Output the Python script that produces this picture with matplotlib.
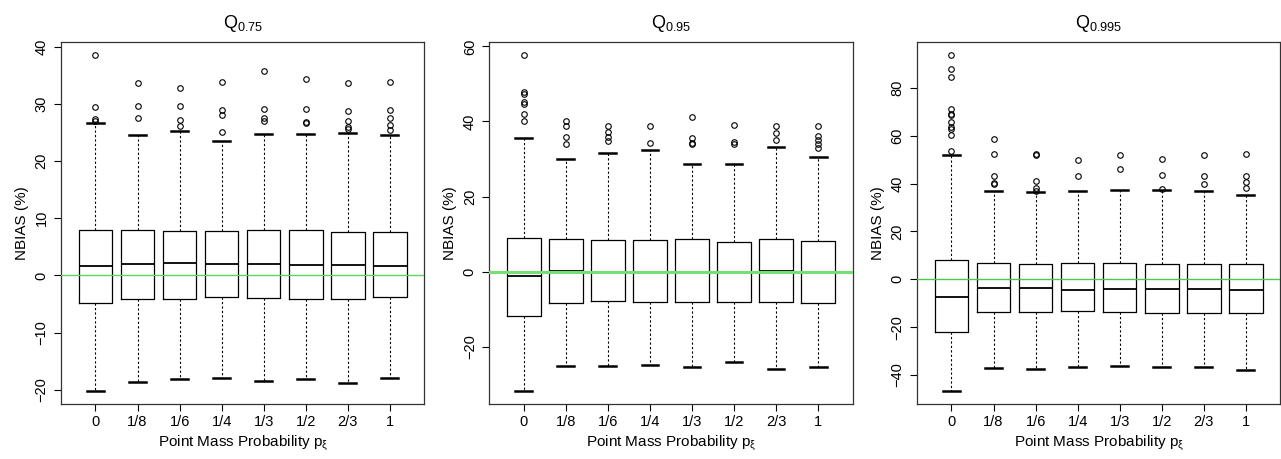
import matplotlib
matplotlib.use("Agg")
import matplotlib.pyplot as plt

plt.rcParams['font.family'] = ['Liberation Sans', 'DejaVu Sans']
plt.rcParams['mathtext.fontset'] = 'custom'
plt.rcParams['mathtext.rm'] = 'Liberation Sans'
plt.rcParams['mathtext.it'] = 'Liberation Sans:italic'

categories = ["0", "1/8", "1/6", "1/4", "1/3", "1/2", "2/3", "1"]
titles = ["0.75", "0.95", "0.995"]

# Panel 1: Q_0.75
q75_lowwhisk = [-20.16, -18.6, -18.2, -17.9, -18.4, -18.2, -18.8, -17.9]
q75_q1 = [-4.84, -4.08, -4.08, -3.79, -3.96, -4.08, -4.14, -3.79]
q75_med = [1.57, 1.98, 2.16, 2.04, 1.98, 1.80, 1.75, 1.57]
q75_q3 = [7.87, 7.98, 7.75, 7.70, 7.87, 7.87, 7.63, 7.63]
q75_hiwhisk = [26.6, 24.6, 25.35, 23.5, 24.8, 24.8, 24.9, 24.65]
q75_fliers = [
    [38.5, 29.4, 27.3, 27.0],
    [33.7, 29.7, 27.6],
    [32.8, 29.6, 27.2, 26.2],
    [33.9, 29.0, 28.1, 25.1],
    [35.7, 29.1, 27.5, 27.0],
    [34.3, 29.2, 26.9, 26.7],
    [33.7, 28.7, 27.1, 25.9, 25.7],
    [33.9, 28.9, 27.6, 26.3, 25.4],
]

# Panel 2: Q_0.95
q95_lowwhisk = [-31.7, -25.2, -25.2, -24.9, -25.5, -24.2, -25.9, -25.5]
q95_q1 = [-11.7, -8.3, -7.9, -8.1, -8.0, -8.2, -8.2, -8.3]
q95_med = [-1.15, 0.09, 0.0, -0.1, -0.1, -0.2, 0.1, -0.2]
q95_q3 = [8.96, 8.6, 8.3, 8.3, 8.8, 8.0, 8.6, 8.2]
q95_hiwhisk = [35.7, 29.9, 31.7, 32.5, 28.8, 28.8, 33.1, 30.6]
q95_fliers = [
    [57.6, 47.8, 47.4, 45.3, 44.6, 41.9, 40.2],
    [40.0, 38.7, 35.9, 34.0],
    [38.7, 37.1, 35.9, 34.9],
    [38.7, 34.2],
    [41.3, 35.7, 34.2, 33.9],
    [39.1, 34.4, 34.1],
    [38.7, 36.9, 35.0],
    [38.7, 36.0, 35.1, 34.1, 32.9],
]

# Panel 3: Q_0.995
q995_lowwhisk = [-46.5, -37.0, -37.4, -36.6, -36.3, -36.6, -36.5, -37.7]
q995_q1 = [-22.1, -13.6, -13.5, -13.4, -13.6, -13.9, -14.1, -13.9]
q995_med = [-7.4, -3.5, -3.6, -4.3, -4.2, -4.0, -4.2, -4.6]
q995_q3 = [7.9, 7.0, 6.4, 7.0, 7.0, 6.4, 6.4, 6.5]
q995_hiwhisk = [51.8, 36.9, 36.3, 36.9, 37.3, 37.3, 36.9, 35.2]
q995_fliers = [
    [93.6, 88.1, 84.5, 71.0, 69.3, 68.8, 65.7, 63.6, 62.9, 60.3, 53.6],
    [58.5, 52.2, 43.0, 40.4, 39.7],
    [52.5, 51.9, 41.1, 38.0, 37.0],
    [49.8, 43.2],
    [51.8, 46.2],
    [50.1, 43.6, 37.7],
    [51.8, 43.2, 40.0],
    [52.5, 43.2, 40.7, 38.3],
]

panels = [
    (q75_lowwhisk, q75_q1, q75_med, q75_q3, q75_hiwhisk, q75_fliers, [-20, -10, 0, 10, 20, 30, 40]),
    (q95_lowwhisk, q95_q1, q95_med, q95_q3, q95_hiwhisk, q95_fliers, [-20, 0, 20, 40, 60]),
    (q995_lowwhisk, q995_q1, q995_med, q995_q3, q995_hiwhisk, q995_fliers, [-40, -20, 0, 20, 40, 60, 80]),
]

W, H = 1281, 459
fig = plt.figure(figsize=(W / 100, H / 100), dpi=100)
lefts = [61, 489.3, 917]
ax_w = 363.3
top_px, bot_px = 42, 404
zero_lw = [1.0, 2.2, 1.0]
zero_col = ['#5ed45e', '#74e074', '#4cc94c']

for i, (lw_, q1, med, q3, hw, fl, yt) in enumerate(panels):
    ax = fig.add_axes([lefts[i] / W, 1 - bot_px / H, ax_w / W, (bot_px - top_px) / H])
    stats = []
    for j in range(len(categories)):
        stats.append(dict(whislo=lw_[j], q1=q1[j], med=med[j], q3=q3[j], whishi=hw[j], fliers=fl[j]))
    ax.axhline(0, color=zero_col[i], lw=zero_lw[i], zorder=3)
    ax.bxp(stats, positions=range(1, 9), widths=0.8, capwidths=0.4, showfliers=True,
           boxprops=dict(color='black', lw=0.9),
           medianprops=dict(color='black', lw=1.3),
           whiskerprops=dict(color='black', lw=0.8, linestyle=(0, (2, 2))),
           capprops=dict(color='black', lw=1.8),
           flierprops=dict(marker='o', markersize=4, markerfacecolor='none',
                           markeredgecolor='black', markeredgewidth=0.8),
           zorder=2)
    all_vals = lw_ + hw + [v for f in fl for v in f]
    lo, hi = min(all_vals), max(all_vals)
    r = hi - lo
    ax.set_ylim(lo - 0.04 * r, hi + 0.04 * r)
    ax.set_xlim(0.18, 8.82)
    ax.set_xticks(range(1, 9))
    ax.set_xticklabels(categories)
    ax.set_yticks(yt)
    ax.set_yticklabels([str(v).replace('-', '\u2212') for v in yt], rotation=90, va='center')
    ax.tick_params(axis='both', direction='out', length=5, width=0.8, labelsize=10.5, colors='black')
    ax.tick_params(axis='y', pad=4)
    ax.tick_params(axis='x', pad=3)
    for s in ax.spines.values():
        s.set_color('#333333')
        s.set_linewidth(0.9)
    ax.set_ylabel('NBIAS (%)', fontsize=11, labelpad=4)
    ax.set_xlabel('Point Mass Probability $\\mathrm{p}_{\\mathrm{\u03be}}$', fontsize=11, labelpad=3)
    ax.set_title('$\\mathrm{Q}_{\\mathrm{' + titles[i] + '}}$', fontsize=13, pad=10)

fig.savefig('out.png', dpi=100)
